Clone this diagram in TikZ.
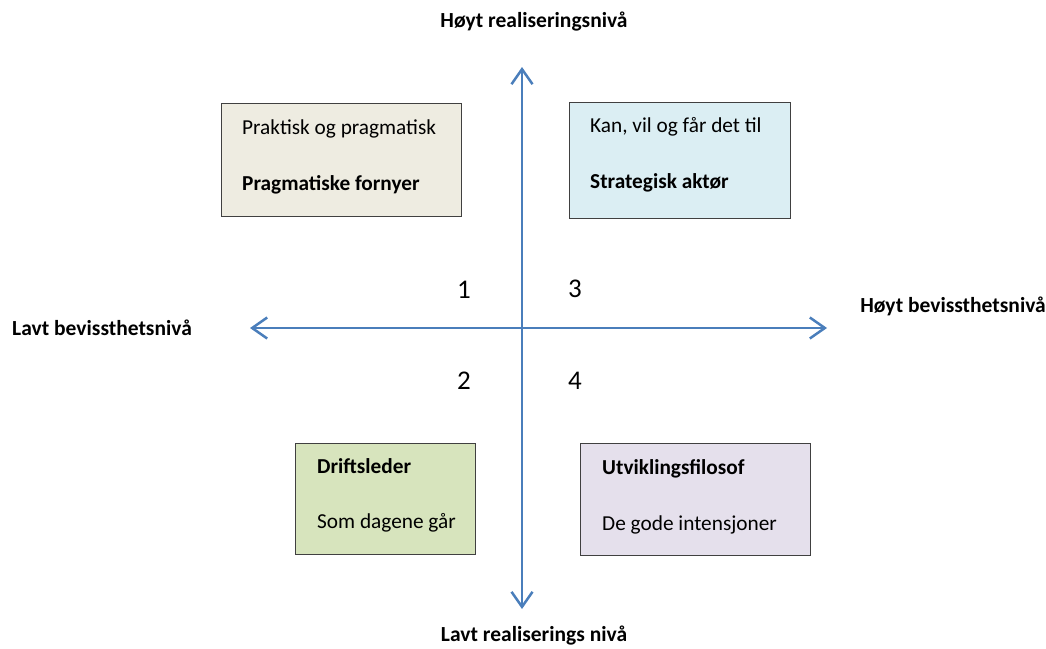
\documentclass[tikz,border=0pt]{standalone}
\usepackage{fontspec}
\setmainfont{Carlito}
\usetikzlibrary{arrows.meta}
\definecolor{axisblue}{HTML}{4A7EBB}
\definecolor{tanfill}{HTML}{EEECE1}
\definecolor{bluefill}{HTML}{DBEEF3}
\definecolor{greenfill}{HTML}{D7E4BD}
\definecolor{purplefill}{HTML}{E5E0EC}
\definecolor{edge}{HTML}{404040}
\tikzset{
  quadbox/.style={draw=edge, line width=1pt, inner sep=0pt, anchor=north west},
  boxtext/.style={inner sep=0pt, anchor=base west, font=\fontsize{21.3pt}{23pt}\selectfont},
  boxtitle/.style={boxtext, font=\fontsize{21.3pt}{23pt}\selectfont\bfseries},
  axislabel/.style={inner sep=0pt, anchor=base, font=\fontsize{21.5pt}{23pt}\selectfont\bfseries},
  quadnum/.style={inner sep=0pt, font=\fontsize{27pt}{29pt}\selectfont},
  axisline/.style={draw=axisblue, line width=2.5pt, arrows={Straight Barb[length=15pt, width=21pt, line width=2.5pt]-Straight Barb[length=15pt, width=21pt, line width=2.5pt]}}
}
\begin{document}
\begin{tikzpicture}[x=1pt,y=-1pt]
\useasboundingbox (0,0) rectangle (1046,648);
% boxes
\node[quadbox, fill=tanfill, minimum width=240pt, minimum height=113pt] (b1) at (221,103) {};
\node[quadbox, fill=bluefill, minimum width=221pt, minimum height=116pt] (b3) at (569,102) {};
\node[quadbox, fill=greenfill, minimum width=180pt, minimum height=111pt] (b2) at (295,443) {};
\node[quadbox, fill=purplefill, minimum width=230pt, minimum height=112pt] (b4) at (580,443) {};
% box texts
\node[boxtext] (t1a) at (242,134) {Praktisk og pragmatisk};
\node[boxtitle] (t1b) at (242,190) {Pragmatiske fornyer};
\node[boxtext] (t3a) at (590,132) {Kan, vil og får det til};
\node[boxtitle] (t3b) at (590,188) {Strategisk aktør};
\node[boxtitle] (t2a) at (317,473) {Driftsleder};
\node[boxtext] (t2b) at (317,528) {Som dagene går};
\node[boxtitle] (t4a) at (602,474) {Utviklingsfilosof};
\node[boxtext] (t4b) at (602,530) {De gode intensjoner};
% axes
\coordinate (top) at (522,67);
\coordinate (bottom) at (522,609);
\coordinate (left) at (250,328);
\coordinate (right) at (827,328);
\draw[axisline] (bottom) -- (top);
\draw[axisline] (left) -- (right);
% numbers
\node[quadnum] (n1) at (464,290) {1};
\node[quadnum] (n3) at (575,289) {3};
\node[quadnum] (n2) at (464,381) {2};
\node[quadnum] (n4) at (575,381) {4};
% axis labels
\node[axislabel] (lt) at (534,27) {Høyt realiseringsnivå};
\node[axislabel] (lb) at (534,641) {Lavt realiserings nivå};
\node[axislabel] (ll) at (102,335) {Lavt bevissthetsnivå};
\node[axislabel] (lr) at (953,312) {Høyt bevissthetsnivå};
\end{tikzpicture}
\end{document}
